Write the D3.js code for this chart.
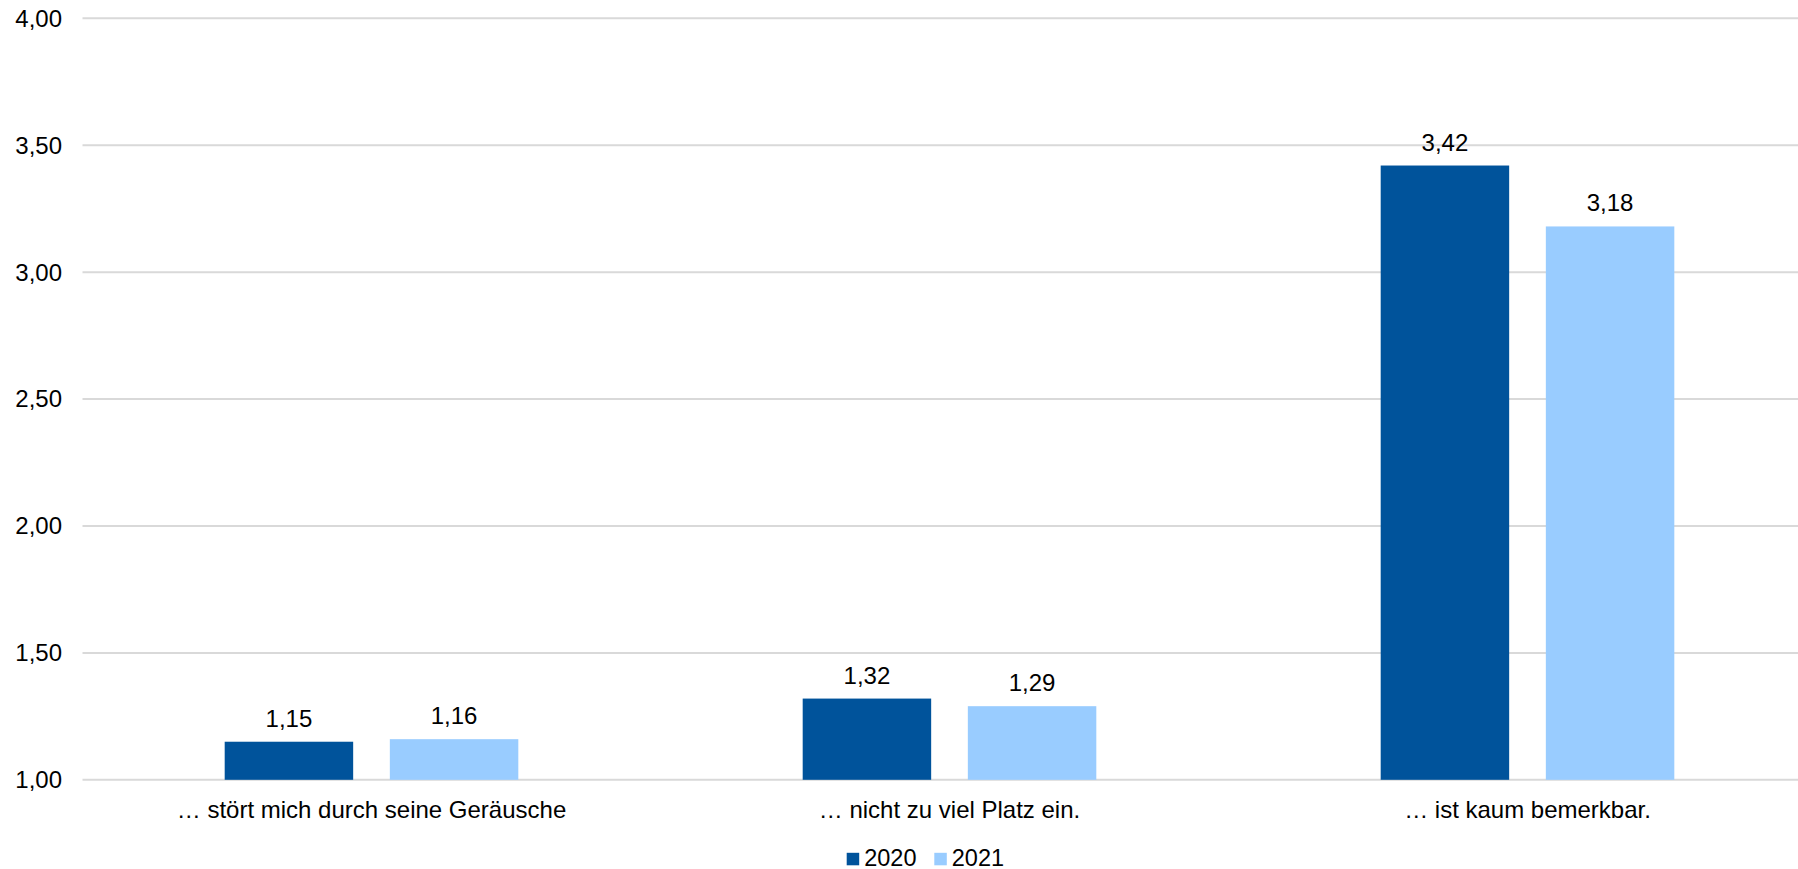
<!DOCTYPE html>
<html>
<head>
<meta charset="utf-8">
<script src="https://cdn.jsdelivr.net/npm/d3@7"></script>
<style>
  html, body { margin: 0; padding: 0; background: #fff; overflow: hidden; }
  svg { display: block; font-family: "Liberation Sans", Arial, sans-serif; }
</style>
</head>
<body>
<svg id="chart" width="1798" height="869"></svg>
<script>
// Categories, series and tick values
const categories = ["… stört mich durch seine Geräusche", "… nicht zu viel Platz ein.", "… ist kaum bemerkbar."];
const seriesNames = ["2020", "2021"];
const values2020 = [1.15, 1.32, 3.42];
const values2021 = [1.16, 1.29, 3.18];
const yTicks = [1.0, 1.5, 2.0, 2.5, 3.0, 3.5, 4.0];
const colors = ["#00539B", "#99CCFF"];

(function () {
  const series = [values2020, values2021];
  const fmt = v => d3.format(".2f")(v).replace(".", ",");
  const fontSize = 24;

  const svg = d3.select("#chart");
  const plotLeft = 82.5, plotRight = 1816.5, plotTop = 18.3, plotBottom = 779.8;

  const x0 = d3.scaleBand().domain(categories).range([plotLeft, plotRight]).paddingInner(0).paddingOuter(0);
  const x1 = d3.scaleBand().domain(seriesNames).range([0, x0.bandwidth()]).paddingInner(0.222).paddingOuter(0.861);
  const y = d3.scaleLinear().domain([1, 4]).range([plotBottom, plotTop]);

  // Gridlines
  svg.append("g")
    .selectAll("line").data(yTicks).join("line")
    .attr("x1", plotLeft).attr("x2", plotRight)
    .attr("y1", d => y(d)).attr("y2", d => y(d))
    .attr("stroke", "#D9D9D9").attr("stroke-width", 2);

  // Y axis labels
  svg.append("g")
    .selectAll("text").data(yTicks).join("text")
    .attr("x", 62).attr("y", d => y(d))
    .attr("dy", "0.35em")
    .attr("text-anchor", "end")
    .attr("font-size", fontSize)
    .attr("fill", "#000")
    .text(fmt);

  const rows = (c, i) => seriesNames.map((s, j) => ({ s, j, v: series[j][i] }));

  // Bars
  const groups = svg.append("g").selectAll("g").data(categories).join("g")
    .attr("transform", d => `translate(${x0(d)},0)`);

  groups.selectAll("rect")
    .data(rows)
    .join("rect")
    .attr("x", d => x1(d.s))
    .attr("width", x1.bandwidth())
    .attr("y", d => y(d.v))
    .attr("height", d => y(1) - y(d.v))
    .attr("fill", d => colors[d.j]);

  // Value labels
  groups.selectAll("text")
    .data(rows)
    .join("text")
    .attr("x", d => x1(d.s) + x1.bandwidth() / 2)
    .attr("y", d => y(d.v) - 15)
    .attr("text-anchor", "middle")
    .attr("font-size", fontSize)
    .attr("fill", "#000")
    .text(d => fmt(d.v));

  // Category labels
  svg.append("g")
    .selectAll("text").data(categories).join("text")
    .attr("x", d => x0(d) + x0.bandwidth() / 2)
    .attr("y", 818)
    .attr("text-anchor", "middle")
    .attr("font-size", fontSize)
    .attr("fill", "#000")
    .text(d => d);

  // Legend
  const legend = svg.append("g");
  const legendX = [846.7, 934.3];
  seriesNames.forEach((s, j) => {
    legend.append("rect")
      .attr("x", legendX[j]).attr("y", 852.8)
      .attr("width", 12.5).attr("height", 12.5)
      .attr("fill", colors[j]);
    legend.append("text")
      .attr("x", legendX[j] + 17.5).attr("y", 865.5)
      .attr("font-size", 23.5)
      .attr("fill", "#000")
      .text(s);
  });
})();
</script>
</body>
</html>
